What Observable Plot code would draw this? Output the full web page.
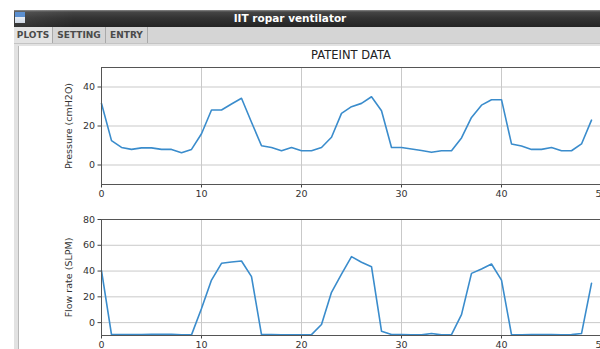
<!DOCTYPE html>
<html>
<head>
<meta charset="utf-8">
<script src="https://cdn.jsdelivr.net/npm/d3@7"></script>
<script src="https://cdn.jsdelivr.net/npm/@observablehq/plot@0.6"></script>
<style>
html,body{margin:0;padding:0;width:600px;height:349px;overflow:hidden;background:#fff;font-family:"DejaVu Sans",sans-serif;}
#titlebar{position:absolute;left:14px;top:10px;width:600px;height:17px;background:linear-gradient(#8a8a8a 0px,#454545 2px,#333 8px,#242424 17px);}
#titlebar .lite{position:absolute;left:0;top:0;width:60px;height:17px;background:linear-gradient(90deg,rgba(255,255,255,0.08),rgba(255,255,255,0));}
#icon{position:absolute;left:1px;top:2px;width:10px;height:11px;background:linear-gradient(#5b8fd0 0,#5b8fd0 45%,#e8eef6 45%,#cfd8e4 100%);}
#wtitle{position:absolute;left:0;top:10px;width:580px;height:17px;line-height:17px;text-align:center;color:#fff;font-weight:bold;font-size:10.5px;}
#tabbar{position:absolute;left:14px;top:27px;width:600px;height:16px;background:#d5d5d5;border-bottom:1px solid #c4c4c4;}
.tab{position:absolute;top:0;height:16px;line-height:16px;font-size:9px;font-weight:bold;color:#4a4a4a;text-align:center;border-right:1px solid #a9a9a9;}
#panel{position:absolute;left:14px;top:44px;width:600px;height:310px;background:#e2e2e2;}
#canvas{position:absolute;left:18px;top:46px;width:600px;height:310px;background:#fff;border-left:1px solid #b8b8b8;}
#ptitle{position:absolute;left:101px;width:500px;top:48px;text-align:center;font-size:11.5px;color:#222;}
.plotbox{position:absolute;left:0;top:0;}
.plotbox svg{overflow:visible;max-width:none !important;}
</style>
</head>
<body>
<div id="titlebar"><div class="lite"></div><div id="icon"></div></div>
<div id="wtitle">IIT ropar ventilator</div>
<div id="tabbar">
  <div class="tab" style="left:0;width:38px;background:#e3e3e3;">PLOTS</div>
  <div class="tab" style="left:39px;width:52px;">SETTING</div>
  <div class="tab" style="left:92px;width:41px;">ENTRY</div>
</div>
<div id="panel"></div>
<div id="canvas"></div>
<div id="ptitle">PATEINT DATA</div>
<div class="plotbox" id="top"></div>
<div class="plotbox" id="bottom"></div>
<script>
// Sample index (x axis)
const xTicks = [0, 10, 20, 30, 40, 50];
const pressureTicks = [0, 20, 40];
const flowTicks = [0, 20, 40, 60, 80];

// Pressure (cmH2O), one value per sample
const pressure = [31.5, 12.5, 9, 8, 8.8, 8.8, 8, 8, 6.3, 8,
  16, 28.2, 28.2, 31.3, 34.2, 21.9, 9.9, 9, 7.3, 9,
  7.3, 7.3, 9, 14.2, 26.5, 29.9, 31.6, 35, 27.8, 9,
  9, 8.2, 7.4, 6.5, 7.3, 7.3, 13.9, 24.4, 30.7, 33.5,
  33.5, 10.8, 9.7, 8, 8, 9, 7.3, 7.3, 10.8, 23];

// Flow rate (SLPM), one value per sample
const flow = [40.3, -9.3, -9.3, -9.3, -9.3, -9, -9, -9, -9.5, -9.5,
  11, 33, 46, 47, 47.8, 35.7, -9.3, -9.3, -9.5, -9.5,
  -9.5, -9.3, -1.5, 23.5, 37.7, 51.2, 46.8, 43.4, -6.7, -9.3,
  -9.3, -9.5, -9.5, -8.5, -9.5, -9.3, 6.2, 38.2, 41.6, 45.5,
  33, -9.3, -9.5, -9.3, -9.3, -9.3, -9.5, -9.3, -8.5, 30.5];

const sample = d3.range(pressure.length);

function subplot(values, yDomain, yTicks, yLabel, top, bottom, svgH) {
  const data = values.map((v, i) => ({x: sample[i], y: v}));
  return Plot.plot({
    width: 641,
    height: svgH,
    marginLeft: 101,
    marginRight: 40,
    marginTop: top,
    marginBottom: svgH - bottom,
    style: {fontFamily: "DejaVu Sans", fontSize: "9.5px", color: "#333", background: "transparent", overflow: "visible", maxWidth: "none"},
    x: {domain: [0, 50], ticks: xTicks, tickSize: 3.5, tickPadding: 3, label: null},
    y: {domain: yDomain, ticks: yTicks, tickSize: 3.5, tickPadding: 3, label: yLabel, labelAnchor: "center", labelArrow: "none", labelOffset: 36},
    marks: [
      Plot.gridX(xTicks, {stroke: "#c9c9c9", strokeOpacity: 1, strokeWidth: 1}),
      Plot.gridY(yTicks, {stroke: "#c9c9c9", strokeOpacity: 1, strokeWidth: 1}),
      Plot.axisX({ticks: xTicks, tickSize: 3.5, tickPadding: 2, stroke: "#444", label: null}),
      Plot.axisY({ticks: yTicks, tickSize: 3.5, tickPadding: 3, stroke: "#444", label: yLabel, labelAnchor: "center", labelArrow: "none", labelOffset: 36}),
      Plot.line(data, {x: "x", y: "y", stroke: "#3a8ccc", strokeWidth: 1.6}),
      Plot.frame({stroke: "#555", strokeWidth: 1})
    ]
  });
}

document.getElementById("top").append(
  subplot(pressure, [-10, 50], pressureTicks, "Pressure (cmH2O)", 67, 184, 205));
document.getElementById("bottom").append(
  subplot(flow, [-10, 80], flowTicks, "Flow rate (SLPM)", 219, 335, 360));
</script>
</body>
</html>
